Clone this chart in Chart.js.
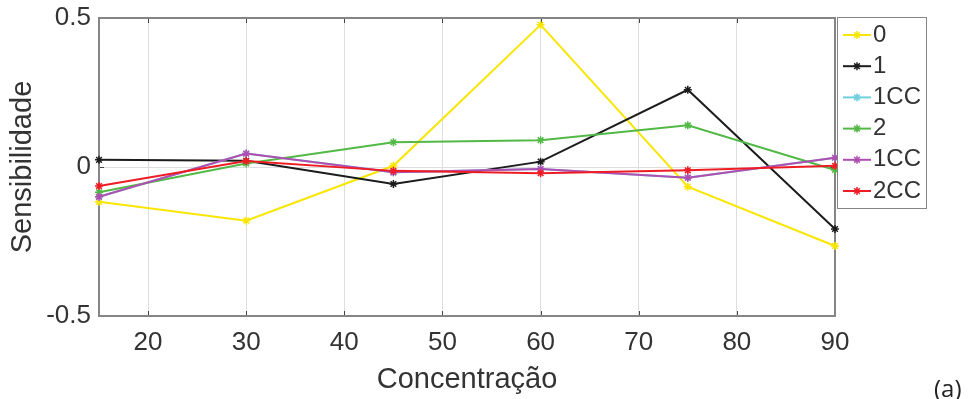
<!DOCTYPE html>
<html>
<head>
<meta charset="utf-8">
<script src="https://cdn.jsdelivr.net/npm/chart.js@4.4.1/dist/chart.umd.min.js"></script>
<style>
  html, body { margin: 0; padding: 0; background: #fff; overflow: hidden; }
  canvas { display: block; }
</style>
</head>
<body>
<canvas id="c" width="973" height="399"></canvas>
<script>
// Concentrations (x) and sensitivity of each series (y)
const concentracoes = [15, 30, 45, 60, 75, 90];
const sens0    = [-0.117, -0.180, 0.004, 0.477, -0.066, -0.265];
const sens1    = [0.024, 0.021, -0.057, 0.018, 0.259, -0.208];
const sens1CC  = [-0.100, 0.045, -0.018, -0.007, -0.036, 0.031];
const sens2    = [-0.085, 0.012, 0.083, 0.090, 0.140, -0.010];
const sens1CCb = [-0.100, 0.045, -0.018, -0.007, -0.036, 0.031];
const sens2CC  = [-0.064, 0.020, -0.013, -0.021, -0.011, 0.004];

const seriesLabels = ['0', '1', '1CC', '2', '1CC', '2CC'];
const seriesValues = [sens0, sens1, sens1CC, sens2, sens1CCb, sens2CC];
const seriesColors = ['#f9e600', '#1c1c1c', '#6fcfdc', '#52b947', '#b04fb2', '#ee1d25'];

const xTicks = [20, 30, 40, 50, 60, 70, 80, 90];
const yTicks = [-0.5, 0, 0.5];
const yTickLabels = ['-0.5', '0', '0.5'];

const TEXT = '#333333';
const FONT = "'Liberation Sans', Arial, sans-serif";

// later series are painted over earlier ones
const datasets = seriesValues.map((vals, i) => ({
  label: seriesLabels[i],
  data: concentracoes.map((c, k) => ({ x: c, y: vals[k] })),
  order: seriesValues.length - i,
  borderColor: seriesColors[i],
  backgroundColor: seriesColors[i],
  pointBorderColor: seriesColors[i],
  pointBackgroundColor: seriesColors[i],
  borderWidth: 2,
  pointStyle: 'star',
  pointRadius: 4,
  pointBorderWidth: 1.5,
  tension: 0,
  clip: false
}));

// Axes box with inward tick marks (drawn under the lines)
const framePlugin = {
  id: 'frame',
  beforeDatasetsDraw(chart) {
    const { ctx, chartArea: a, scales } = chart;
    ctx.save();
    ctx.strokeStyle = '#444';
    ctx.lineWidth = 1;
    const L = 5;
    xTicks.forEach(v => {
      const px = Math.round(scales.x.getPixelForValue(v)) + 0.5;
      ctx.beginPath();
      ctx.moveTo(px, a.bottom); ctx.lineTo(px, a.bottom - L);
      ctx.moveTo(px, a.top); ctx.lineTo(px, a.top + L);
      ctx.stroke();
    });
    yTicks.forEach(v => {
      const py = Math.round(scales.y.getPixelForValue(v)) + 0.5;
      ctx.beginPath();
      ctx.moveTo(a.left, py); ctx.lineTo(a.left + L, py);
      ctx.moveTo(a.right, py); ctx.lineTo(a.right - L, py);
      ctx.stroke();
    });
    ctx.strokeStyle = '#858585';
    ctx.lineWidth = 2;
    ctx.strokeRect(a.left, a.top, a.right - a.left, a.bottom - a.top);
    ctx.restore();
  }
};

// Boxed legend to the right of the plot, plus the panel tag
const legendPlugin = {
  id: 'boxLegend',
  afterDraw(chart) {
    const { ctx, chartArea: a } = chart;
    const bx = a.right + 2, by = a.top - 1, bw = 89, bh = 191;
    ctx.save();
    ctx.fillStyle = '#fff';
    ctx.fillRect(bx, by, bw, bh);
    ctx.strokeStyle = '#858585';
    ctx.lineWidth = 1;
    ctx.strokeRect(bx + 0.5, by + 0.5, bw, bh);
    chart.data.datasets.forEach((ds, i) => {
      const y = by + 18 + i * 31.2;
      ctx.strokeStyle = ds.borderColor;
      ctx.lineWidth = 2;
      ctx.beginPath();
      ctx.moveTo(bx + 6, y); ctx.lineTo(bx + 34, y);
      ctx.stroke();
      ctx.fillStyle = ds.borderColor;
      ctx.lineWidth = 1.5;
      Chart.helpers.drawPoint(ctx, { pointStyle: 'star', radius: 4, rotation: 0, borderWidth: 1.5 }, bx + 20, y);
      ctx.fillStyle = TEXT;
      ctx.font = '24px ' + FONT;
      ctx.textBaseline = 'middle';
      ctx.textAlign = 'left';
      ctx.fillText(ds.label, bx + 36, y);
    });
    ctx.fillStyle = '#222';
    ctx.font = "24px 'Open Sans', sans-serif";
    ctx.textBaseline = 'alphabetic';
    ctx.fillText('(a)', 934, 397);
    ctx.restore();
  }
};

new Chart(document.getElementById('c'), {
  type: 'line',
  data: { datasets },
  options: {
    responsive: false,
    animation: false,
    devicePixelRatio: 1,
    layout: { padding: { left: 0, top: 18, right: 138, bottom: 0 } },
    plugins: { legend: { display: false }, tooltip: { enabled: false } },
    scales: {
      x: {
        type: 'linear',
        min: 15, max: 90,
        afterBuildTicks: s => { s.ticks = xTicks.map(v => ({ value: v })); },
        afterFit: s => { s.height = 83; s.paddingLeft = 0; s.paddingRight = 0; },
        grid: { color: '#dedede', lineWidth: 1, drawTicks: false },
        border: { display: false },
        ticks: { color: TEXT, font: { family: FONT, size: 26 }, padding: 11, maxRotation: 0, autoSkip: false },
        title: { display: true, text: 'Concentração', color: TEXT, font: { family: FONT, size: 29 }, padding: { top: 0, bottom: 2 } }
      },
      y: {
        type: 'linear',
        min: -0.5, max: 0.5,
        afterBuildTicks: s => { s.ticks = yTicks.map(v => ({ value: v })); },
        afterFit: s => { s.width = 99; s.paddingTop = 0; s.paddingBottom = 0; },
        grid: { color: '#dedede', lineWidth: 1, drawTicks: false },
        border: { display: false },
        ticks: {
          color: TEXT, font: { family: FONT, size: 26 }, padding: 8, autoSkip: false,
          callback: v => yTickLabels[yTicks.indexOf(v)]
        },
        title: { display: true, text: 'Sensibilidade', color: TEXT, font: { family: FONT, size: 29 }, padding: { top: 6, bottom: 0 } }
      }
    }
  },
  plugins: [framePlugin, legendPlugin]
});
</script>
</body>
</html>
